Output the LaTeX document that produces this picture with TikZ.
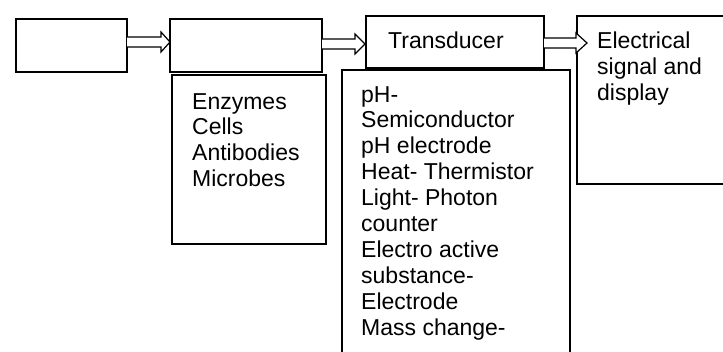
\documentclass[tikz,border=0pt]{standalone}
\usepackage{fontspec}
\setmainfont{Liberation Sans}
\usetikzlibrary{calc}
\begin{document}
\begin{tikzpicture}[x=1pt,y=-1pt,
  boxs/.style={draw,line width=1.7pt,inner sep=0pt,outer sep=0pt,anchor=north west},
  txt/.style={align=left,anchor=north west,inner sep=0pt,font=\fontsize{23}{25.9}\selectfont},
  arrowline/.style={draw,line width=1.2pt,fill=white,line join=miter}]
\useasboundingbox (0,0) rectangle (723,352);
\clip (0,0) rectangle (723,352);
% boxes
\node[boxs,minimum width=111pt,minimum height=53pt] (b1) at (16,19) {};
\node[boxs,minimum width=152pt,minimum height=53pt] (b2) at (170,19) {};
\node[boxs,minimum width=178pt,minimum height=52pt] (b3) at (366,16) {};
\node[boxs,minimum width=200pt,minimum height=168pt] (b4) at (577,16) {};
\node[boxs,minimum width=154pt,minimum height=169pt] (b5) at (172,75) {};
\node[boxs,minimum width=228pt,minimum height=320pt] (b6) at (342,70) {};
% texts
\node[txt] (t3) at (388,32) {Transducer};
\node[txt] (t4) at (597,32) {Electrical\\signal and\\display};
\node[txt] (t5) at (192,93) {Enzymes\\Cells\\Antibodies\\Microbes};
\node[txt] (t6) at (361,86) {pH-\\Semiconductor\\pH electrode\\Heat- Thermistor\\Light- Photon\\counter\\Electro active\\substance-\\Electrode\\Mass change-};
% arrow tips
\coordinate (a1) at (170,42);
\coordinate (a2) at (365,44);
\coordinate (a3) at (587,43);
\path[arrowline] ($(b1.east |- a1)+(0,-5)$) -- ($(a1)+(-9,-5)$) -- ($(a1)+(-9,-10)$) -- (a1) -- ($(a1)+(-9,10)$) -- ($(a1)+(-9,5)$) -- ($(b1.east |- a1)+(0,5)$);
\path[arrowline] ($(b2.east |- a2)+(0,-5)$) -- ($(a2)+(-10,-5)$) -- ($(a2)+(-10,-10)$) -- (a2) -- ($(a2)+(-10,10)$) -- ($(a2)+(-10,5)$) -- ($(b2.east |- a2)+(0,5)$);
\path[arrowline] ($(b3.east |- a3)+(0,-5)$) -- ($(a3)+(-11,-5)$) -- ($(a3)+(-11,-10)$) -- (a3) -- ($(a3)+(-11,10)$) -- ($(a3)+(-11,5)$) -- ($(b3.east |- a3)+(0,5)$);
\end{tikzpicture}
\end{document}
